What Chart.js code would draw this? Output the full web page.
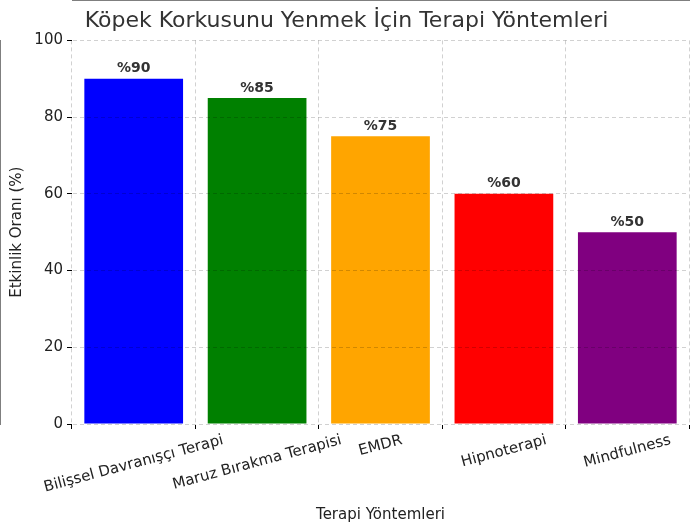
<!DOCTYPE html>
<html>
<head>
<meta charset="utf-8">
<script src="https://cdn.jsdelivr.net/npm/chart.js@4/dist/chart.umd.min.js"></script>
<style>
  body { margin: 0; background: #fff; }
  #wrap { width: 699px; height: 530px; }
</style>
</head>
<body>
<div id="wrap"><canvas id="c"></canvas></div>
<script>
const categories = ['Bilişsel Davranışçı Terapi', 'Maruz Bırakma Terapisi', 'EMDR', 'Hipnoterapi', 'Mindfulness'];
const values     = [90, 85, 75, 60, 50];
const barColors  = ['#0000ff', '#008000', '#ffa500', '#ff0000', '#800080'];
const yTicks     = [0, 20, 40, 60, 80, 100];

const FONT = "'DejaVu Sans', sans-serif";

// Value labels above bars and rotated, centre-aligned category labels.
const labelPlugin = {
    id: 'labels',
    afterDatasetsDraw(chart) {
        const { ctx } = chart;
        const meta = chart.getDatasetMeta(0);
        const x = chart.scales.x;
        const y = chart.scales.y;
        ctx.save();
        ctx.fillStyle = '#333';
        ctx.font = `bold 14px ${FONT}`;
        ctx.textAlign = 'center';
        ctx.textBaseline = 'bottom';
        meta.data.forEach((bar, i) => {
            ctx.fillText('%' + values[i], bar.x, bar.y - 3);
        });
        ctx.font = `15px ${FONT}`;
        ctx.fillStyle = '#222';
        ctx.textBaseline = 'middle';
        categories.forEach((c, i) => {
            const px = x.getPixelForValue(i);
            const w = ctx.measureText(c).width;
            const ang = -15 * Math.PI / 180;
            const cy = y.bottom + 16 + Math.abs(Math.sin(ang)) * w / 2;
            ctx.save();
            ctx.translate(px, cy);
            ctx.rotate(ang);
            ctx.fillText(c, 0, 0);
            ctx.restore();
        });
        ctx.restore();
    },
};

new Chart(document.getElementById('c'), {
    type: 'bar',
    data: {
        labels: categories,
        datasets: [{
            data: values,
            backgroundColor: barColors,
            barPercentage: 0.8,
            categoryPercentage: 1.0,
        }],
    },
    options: {
        responsive: true,
        maintainAspectRatio: false,
        animation: false,
        layout: { padding: { left: 4, right: 10, top: 0, bottom: 6 } },
        plugins: {
            legend: { display: false },
            tooltip: { enabled: false },
            title: {
                display: true,
                text: 'Köpek Korkusunu Yenmek İçin Terapi Yöntemleri',
                color: '#333',
                font: { family: FONT, size: 22, weight: 'normal' },
                padding: { top: 8, bottom: 6 },
            },
        },
        scales: {
            x: {
                afterFit: s => { s.height = 100; },
                grid: { color: 'rgba(0,0,0,0.18)', tickColor: '#000', tickLength: 5, z: 1 },
                border: { color: '#000', dash: [4, 3] },
                ticks: { display: false },
                title: { display: true, text: 'Terapi Yöntemleri', color: '#222', font: { family: FONT, size: 15 }, padding: { top: 4, bottom: 0 } },
            },
            y: {
                min: 0,
                max: 100,
                afterFit: s => { s.width = 68; },
                afterBuildTicks: s => { s.ticks = yTicks.map(v => ({ value: v })); },
                grid: { color: 'rgba(0,0,0,0.18)', tickColor: '#000', tickLength: 5, z: 1 },
                border: { color: '#000', dash: [4, 3] },
                ticks: { color: '#222', font: { family: FONT, size: 15 }, padding: 4 },
                title: { display: true, text: 'Etkinlik Oranı (%)', color: '#222', font: { family: FONT, size: 15 } },
            },
        },
    },
    plugins: [labelPlugin],
});
</script>
</body>
</html>
